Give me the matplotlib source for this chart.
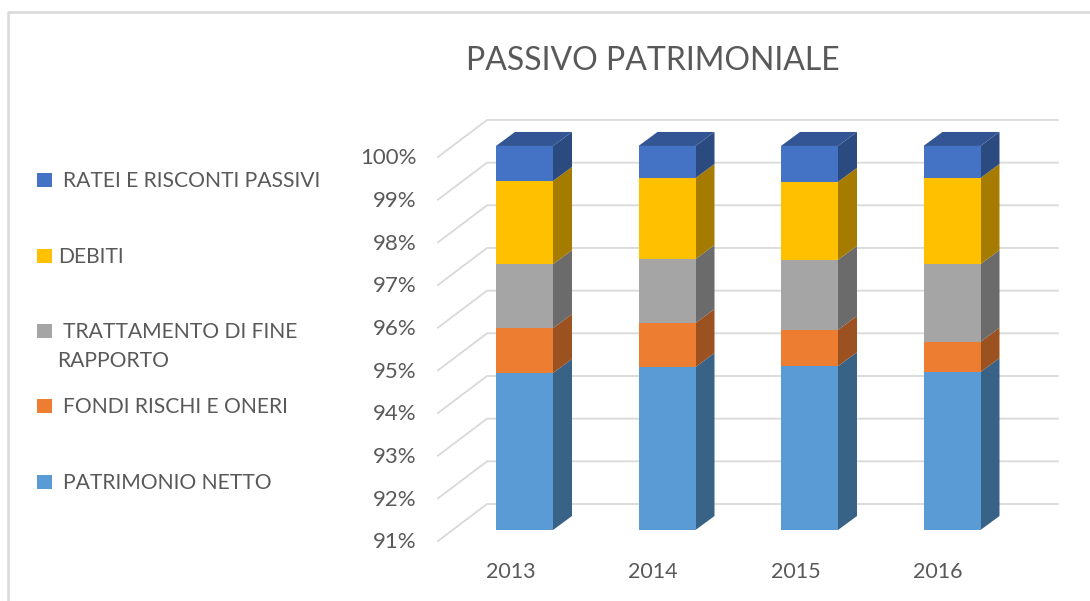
import matplotlib.pyplot as plt
import matplotlib.patches as mpatches
import numpy as np

plt.rcParams['font.family'] = ['Lato', 'DejaVu Sans']

# Chart data (percent of total liabilities)
years = ['2013', '2014', '2015', '2016']
patrimonio = [94.68, 94.82, 94.84, 94.70]
fondi = [1.05, 1.03, 0.85, 0.71]
tfr = [1.50, 1.50, 1.64, 1.82]
debiti = [1.95, 1.90, 1.83, 2.02]
ratei = [0.82, 0.75, 0.84, 0.75]
y_ticks = [91, 92, 93, 94, 95, 96, 97, 98, 99, 100]

series = [patrimonio, fondi, tfr, debiti, ratei]
colors = ['#5B9BD5', '#ED7D31', '#A5A5A5', '#FFC000', '#4472C4']
side_colors = ['#396386', '#9C5220', '#6B6B6B', '#A67C00', '#2A4A80']
top_color = '#335593'

W, H = 1090, 601
TEXT = '#595959'
GRID = '#D9D9D9'

fig = plt.figure(figsize=(W / 100, H / 100), dpi=100, facecolor='white')
ax = fig.add_axes([0, 0, 1, 1])
ax.axis('off')

# pixel scales of the plot: category spacing and one percent
x_step = 142.5
y_step = 42.67
x0_px = 524.5
y91_px = 530
ax.set_xlim(-x0_px / x_step, (W - x0_px) / x_step)
ax.set_ylim(91 - (H - y91_px) / y_step, 91 + y91_px / y_step)


def px(x, y):
    return x / W, 1 - y / H


# chart frame
fig.add_artist(plt.Line2D([8 / W, 8 / W, 1], [0, 1 - 12 / H, 1 - 12 / H], color=GRID, lw=1.8))

# walls: back gridlines and the diagonal floor lines
xs_px = lambda p: (p - x0_px) / x_step
wall_dx = 49 / x_step
wall_dy = 37 / y_step
front_drop = 11 / y_step
label_drop = 12.5 / y_step
x_left = xs_px(438)
x_right = xs_px(1058)
for v in y_ticks:
    back = v - front_drop + wall_dy
    ax.plot([x_left, x_left + wall_dx, x_right], [v - front_drop, back, back],
            color=GRID, lw=1.3, zorder=1, solid_joinstyle='miter')
    ax.text(xs_px(417), v - label_drop, f'{v}%', ha='right', va='center',
            fontsize=16, color=TEXT)

# stacked bars with a fake 3D side and top
bar_w = 57 / x_step
dx = 19 / x_step
dy = 14 / y_step
positions = np.arange(len(years))
cum = np.zeros(len(years))
for vals, col, side in zip(series, colors, side_colors):
    lo = np.maximum(cum, 91)
    hi = cum + np.array(vals)
    ax.bar(positions, hi - lo, bottom=lo, width=bar_w, color=col, linewidth=0, zorder=3)
    for x, a, b in zip(positions, lo, hi):
        r = x + bar_w / 2
        ax.add_patch(mpatches.Polygon([(r, a), (r + dx, a + dy), (r + dx, b + dy), (r, b)],
                                      facecolor=side, edgecolor='none', zorder=2))
    cum = hi

for x, b in zip(positions, cum):
    l, r = x - bar_w / 2, x + bar_w / 2
    ax.add_patch(mpatches.Polygon([(l, b), (l + dx, b + dy), (r + dx, b + dy), (r, b)],
                                  facecolor=top_color, edgecolor='none', zorder=2))

# year labels
for x, year in zip(positions, years):
    ax.text(x - 14 / x_step, 91 - 42.5 / y_step, year, ha='center', va='center',
            fontsize=15.5, color=TEXT)

# title
fig.text(*px(653, 60.5), 'PASSIVO PATRIMONIALE', ha='center', va='center', fontsize=23, color=TEXT)

# legend, laid out by hand like the original
legend_items = [
    ('RATEI E RISCONTI PASSIVI', 4, 180, 63),
    ('DEBITI', 3, 256, 58),
    ('TRATTAMENTO DI FINE', 2, 331, 63),
    ('FONDI RISCHI E ONERI', 1, 406, 63),
    ('PATRIMONIO NETTO', 0, 482, 63),
]
for label, idx, y, tx in legend_items:
    fig.add_artist(mpatches.Rectangle(px(37, y + 7), 15 / W, 14 / H, transform=fig.transFigure,
                                      facecolor=colors[idx], edgecolor='none'))
    fig.text(*px(tx, y + 1), label, ha='left', va='center', fontsize=15.2, color=TEXT)
fig.text(*px(57.5, 361), 'RAPPORTO', ha='left', va='center', fontsize=15.2, color=TEXT)

fig.savefig('out.png', dpi=100)
